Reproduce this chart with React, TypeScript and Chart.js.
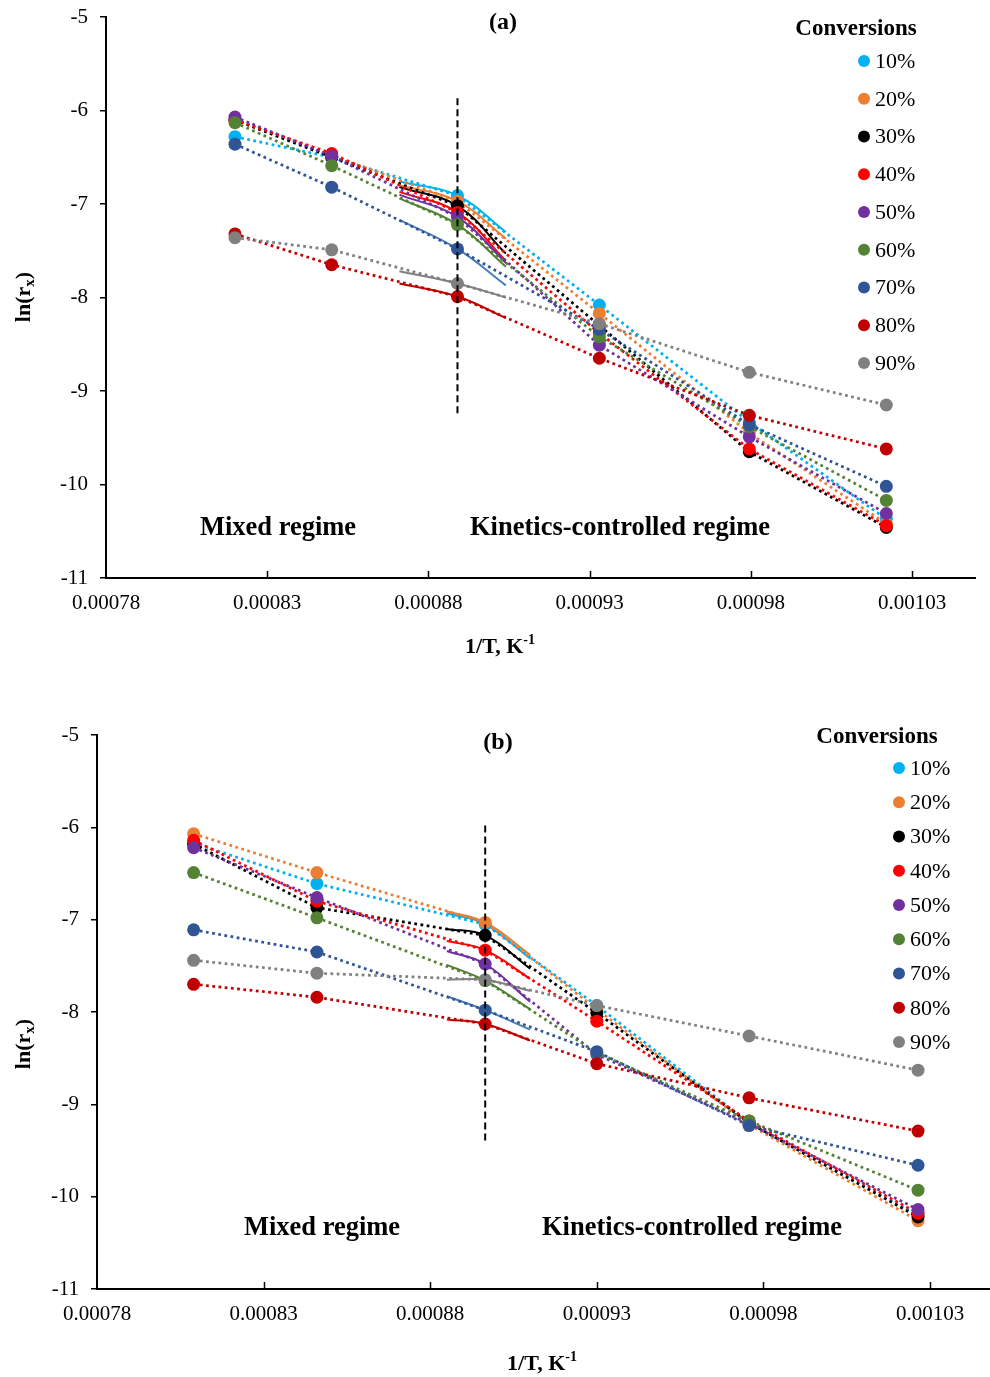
import React, { useEffect, useRef } from 'react';
import { Chart, registerables } from 'chart.js';

Chart.register(...registerables);

const FONT = "'Liberation Serif', 'Times New Roman', serif";
Chart.defaults.font.family = FONT;
Chart.defaults.color = '#000';

const SERIES_LABELS = ['10%', '20%', '30%', '40%', '50%', '60%', '70%', '80%', '90%'];
const SERIES_COLORS = ['#00B0F0', '#ED7D31', '#000000', '#FF0000', '#7030A0', '#548235', '#2F5597', '#C00000', '#808080'];
const SOLID_COLORS = ['#00B0F0', '#ED7D31', '#000000', '#FF0000', '#7030A0', '#548235', '#4A7EBB', '#C00000', '#808080'];

const X_TICKS = [0.00078, 0.00083, 0.00088, 0.00093, 0.00098, 0.00103];
const Y_TICK_STEP = 1;
const Y_MIN = -11;
const Y_MAX = -5;

// ---------- panel (a) ----------
const A_X = [0.00082, 0.00085, 0.000889, 0.000933, 0.0009795, 0.001022];
const A_10 = [-6.28, -6.50, -6.91, -8.08, -9.33, -10.37];
const A_20 = [-6.10, -6.48, -6.97, -8.17, -9.45, -10.42];
const A_30 = [-6.10, -6.50, -7.02, -8.30, -9.65, -10.46];
const A_40 = [-6.10, -6.46, -7.09, -8.38, -9.62, -10.44];
const A_50 = [-6.07, -6.49, -7.14, -8.51, -9.49, -10.31];
const A_60 = [-6.13, -6.59, -7.22, -8.42, -9.38, -10.17];
const A_70 = [-6.36, -6.82, -7.48, -8.34, -9.36, -10.02];
const A_80 = [-7.32, -7.65, -7.99, -8.65, -9.26, -9.62];
const A_90 = [-7.36, -7.49, -7.85, -8.28, -8.80, -9.15];
const A_SOLID_X = [0.000871, 0.000904];
const A_SOLID_START = [-6.76, -6.80, -6.82, -6.87, -6.90, -6.94, -7.17, -7.85, -7.72];
const A_SOLID_END = [-7.30, -7.37, -7.53, -7.61, -7.63, -7.67, -7.87, -8.22, -8.00];
const A_DIVIDER_X = 0.000889;
const A_DIVIDER_Y = [-5.87, -9.28];
const A_X_MAX = 0.0010495;

// ---------- panel (b) ----------
const B_X = [0.000809, 0.000846, 0.0008965, 0.00093, 0.0009757, 0.0010264];
const B_10 = [-6.17, -6.61, -7.05, -7.93, -9.20, -10.20];
const B_20 = [-6.07, -6.49, -7.03, -7.97, -9.22, -10.26];
const B_30 = [-6.18, -6.87, -7.17, -8.01, -9.20, -10.22];
const B_40 = [-6.14, -6.80, -7.33, -8.10, -9.18, -10.18];
const B_50 = [-6.22, -6.76, -7.48, -8.46, -9.21, -10.14];
const B_60 = [-6.49, -6.98, -7.66, -8.44, -9.18, -9.93];
const B_70 = [-7.11, -7.35, -7.98, -8.43, -9.23, -9.66];
const B_80 = [-7.70, -7.84, -8.13, -8.56, -8.93, -9.29];
const B_90 = [-7.44, -7.58, -7.65, -7.93, -8.26, -8.63];
const B_SOLID_X = [0.000885, 0.00091];
const B_SOLID_START = [-6.93, -6.91, -7.10, -7.23, -7.34, -7.49, -7.83, -8.08, -7.65];
const B_SOLID_END = [-7.42, -7.38, -7.53, -7.64, -7.89, -7.97, -8.19, -8.31, -7.77];
const B_DIVIDER_X = 0.0008965;
const B_DIVIDER_Y = [-5.98, -9.41];
const B_X_MAX = 0.001048;

const A_SERIES = [A_10, A_20, A_30, A_40, A_50, A_60, A_70, A_80, A_90];
const B_SERIES = [B_10, B_20, B_30, B_40, B_50, B_60, B_70, B_80, B_90];

function buildDatasets(xs: number[], series: number[][], solidX: number[], solidStart: number[], solidEnd: number[], divX: number, divY: number[]) {
  const ds: any[] = [];
  series.forEach((ys, i) => {
    ds.push({
      label: SERIES_LABELS[i],
      data: xs.map((x, j) => ({ x, y: ys[j] })),
      showLine: true,
      borderColor: SERIES_COLORS[i],
      backgroundColor: SERIES_COLORS[i],
      borderWidth: 2.75,
      borderDash: [2.75, 3.5],
      pointRadius: 6.5,
      pointBorderWidth: 0,
      pointBackgroundColor: SERIES_COLORS[i],
      tension: 0,
      order: 20 - i,
    });
  });
  series.forEach((ys, i) => {
    ds.push({
      label: SERIES_LABELS[i] + ' solid',
      data: [
        { x: solidX[0], y: solidStart[i] },
        { x: xs[2], y: ys[2] },
        { x: solidX[1], y: solidEnd[i] },
      ],
      showLine: true,
      borderColor: SOLID_COLORS[i],
      borderWidth: 2,
      pointRadius: 0,
      tension: 0.4,
      order: 40 - i,
    });
  });
  ds.push({
    label: 'divider',
    data: [{ x: divX, y: divY[0] }, { x: divX, y: divY[1] }],
    showLine: true,
    borderColor: '#000',
    borderWidth: 2,
    borderDash: [7, 4],
    pointRadius: 0,
    order: 0,
  });
  return ds;
}

const overlayPlugin = {
  id: 'overlay',
  afterDraw(chart: any, _args: any, opts: any) {
    const ctx = chart.ctx as CanvasRenderingContext2D;
    const xs = chart.scales.x;
    const area = chart.chartArea;
    ctx.save();
    // inward x tick marks
    ctx.strokeStyle = '#000';
    ctx.lineWidth = 1.5;
    X_TICKS.forEach((v, i) => {
      if (i === 0) return;
      const px = Math.round(xs.getPixelForValue(v)) + 0.5;
      ctx.beginPath();
      ctx.moveTo(px, area.bottom);
      ctx.lineTo(px, area.bottom - 7);
      ctx.stroke();
    });
    ctx.fillStyle = '#000';
    // panel title
    ctx.font = `bold 24px ${FONT}`;
    ctx.textAlign = 'center';
    ctx.textBaseline = 'middle';
    ctx.fillText(opts.title, opts.titlePos[0], opts.titlePos[1]);
    // regime labels
    ctx.font = `bold 26.5px ${FONT}`;
    opts.regimes.forEach((r: any) => ctx.fillText(r.text, r.pos[0], r.pos[1]));
    // legend
    ctx.font = `bold 23px ${FONT}`;
    ctx.fillText('Conversions', opts.legendHead[0], opts.legendHead[1]);
    ctx.font = `22px ${FONT}`;
    ctx.textAlign = 'left';
    SERIES_LABELS.forEach((lab, i) => {
      const y = opts.legendRow0 + i * opts.legendStep;
      ctx.fillStyle = SERIES_COLORS[i];
      ctx.beginPath();
      ctx.arc(opts.legendMarkerX, y, 6, 0, Math.PI * 2);
      ctx.fill();
      ctx.fillStyle = '#000';
      ctx.fillText(lab, opts.legendTextX, y + 1);
    });
    // x axis title: 1/T, K^-1
    {
      const main = '1/T, K';
      const sup = '-1';
      ctx.font = `bold 22px ${FONT}`;
      const w1 = ctx.measureText(main).width;
      ctx.font = `bold 14px ${FONT}`;
      const w2 = ctx.measureText(sup).width;
      const sx = opts.xTitle[0] - (w1 + w2) / 2;
      ctx.textAlign = 'left';
      ctx.font = `bold 22px ${FONT}`;
      ctx.fillText(main, sx, opts.xTitle[1]);
      ctx.font = `bold 14px ${FONT}`;
      ctx.fillText(sup, sx + w1, opts.xTitle[1] - 7);
    }
    // y axis title: ln(r_x)
    {
      ctx.translate(opts.yTitle[0], opts.yTitle[1]);
      ctx.rotate(-Math.PI / 2);
      ctx.font = `bold 22px ${FONT}`;
      const a = 'ln(r';
      const c = ')';
      const wa = ctx.measureText(a).width;
      const wc = ctx.measureText(c).width;
      ctx.font = `bold 15px ${FONT}`;
      const wb = ctx.measureText('x').width;
      const sx = -(wa + wb + wc) / 2;
      ctx.textAlign = 'left';
      ctx.font = `bold 22px ${FONT}`;
      ctx.fillText(a, sx, 0);
      ctx.font = `bold 15px ${FONT}`;
      ctx.fillText('x', sx + wa, 6);
      ctx.font = `bold 22px ${FONT}`;
      ctx.fillText(c, sx + wa + wb, 0);
    }
    ctx.restore();
  },
};

type PanelProps = {
  xs: number[];
  series: number[][];
  solidX: number[];
  solidStart: number[];
  solidEnd: number[];
  divX: number;
  divY: number[];
  xMax: number;
  top: number;
  height: number;
  yAxisWidth: number;
  xAxisHeight: number;
  padTop: number;
  padRight: number;
  overlay: any;
};

function Panel(p: PanelProps) {
  const ref = useRef<HTMLCanvasElement>(null);
  useEffect(() => {
    if (!ref.current) return;
    const chart = new Chart(ref.current, {
      type: 'scatter',
      data: { datasets: buildDatasets(p.xs, p.series, p.solidX, p.solidStart, p.solidEnd, p.divX, p.divY) },
      options: {
        responsive: false,
        animation: false,
        devicePixelRatio: 1,
        layout: { autoPadding: false, padding: { top: p.padTop, right: p.padRight, left: 0, bottom: 0 } },
        plugins: {
          legend: { display: false },
          tooltip: { enabled: false },
          overlay: p.overlay,
        } as any,
        scales: {
          x: {
            type: 'linear',
            min: X_TICKS[0],
            max: p.xMax,
            afterBuildTicks: (s: any) => {
              s.ticks = X_TICKS.map((v) => ({ value: v }));
            },
            afterFit: (s: any) => {
              s.height = p.xAxisHeight;
              s.paddingLeft = 0;
              s.paddingRight = 0;
            },
            ticks: {
              callback: (v: any) => Number(v).toFixed(5),
              font: { size: 21, family: FONT },
              color: '#000',
              padding: 13,
              maxRotation: 0,
              autoSkip: false,
            },
            grid: { display: true, drawOnChartArea: false, drawTicks: false },
            border: { display: true, color: '#000', width: 2 },
          },
          y: {
            type: 'linear',
            min: Y_MIN,
            max: Y_MAX,
            afterFit: (s: any) => {
              s.width = p.yAxisWidth;
              s.paddingTop = 0;
              s.paddingBottom = 0;
            },
            ticks: {
              stepSize: Y_TICK_STEP,
              font: { size: 21, family: FONT },
              color: '#000',
              padding: 12,
            },
            grid: { display: true, drawOnChartArea: false, drawTicks: true, tickLength: 6, color: '#000', lineWidth: 1.5 },
            border: { display: true, color: '#000', width: 2 },
          },
        },
      },
      plugins: [overlayPlugin],
    } as any);
    return () => chart.destroy();
  }, []);
  return (
    <canvas
      ref={ref}
      width={990}
      height={p.height}
      style={{ position: 'absolute', left: 0, top: p.top, width: 990, height: p.height }}
    />
  );
}

export default function App() {
  return (
    <div style={{ position: 'absolute', left: 0, top: 0, width: 990, height: 1377, background: '#fff', overflow: 'hidden' }}>
      <Panel
        xs={A_X}
        series={A_SERIES}
        solidX={A_SOLID_X}
        solidStart={A_SOLID_START}
        solidEnd={A_SOLID_END}
        divX={A_DIVIDER_X}
        divY={A_DIVIDER_Y}
        xMax={A_X_MAX}
        top={0}
        height={690}
        yAxisWidth={106}
        xAxisHeight={112}
        padTop={17}
        padRight={15}
        overlay={{
          title: '(a)',
          titlePos: [503, 23],
          regimes: [
            { text: 'Mixed regime', pos: [278, 528] },
            { text: 'Kinetics-controlled regime', pos: [620, 528] },
          ],
          legendHead: [856, 29],
          legendMarkerX: 864,
          legendTextX: 875,
          legendRow0: 61,
          legendStep: 37.75,
          xTitle: [500, 647],
          yTitle: [24, 297],
        }}
      />
      <Panel
        xs={B_X}
        series={B_SERIES}
        solidX={B_SOLID_X}
        solidStart={B_SOLID_START}
        solidEnd={B_SOLID_END}
        divX={B_DIVIDER_X}
        divY={B_DIVIDER_Y}
        xMax={B_X_MAX}
        top={690}
        height={687}
        yAxisWidth={97}
        xAxisHeight={88}
        padTop={45}
        padRight={0}
        overlay={{
          title: '(b)',
          titlePos: [498, 53],
          regimes: [
            { text: 'Mixed regime', pos: [322, 538] },
            { text: 'Kinetics-controlled regime', pos: [692, 538] },
          ],
          legendHead: [877, 47],
          legendMarkerX: 899,
          legendTextX: 910,
          legendRow0: 78,
          legendStep: 34.25,
          xTitle: [542, 674],
          yTitle: [24, 354],
        }}
      />
    </div>
  );
}
